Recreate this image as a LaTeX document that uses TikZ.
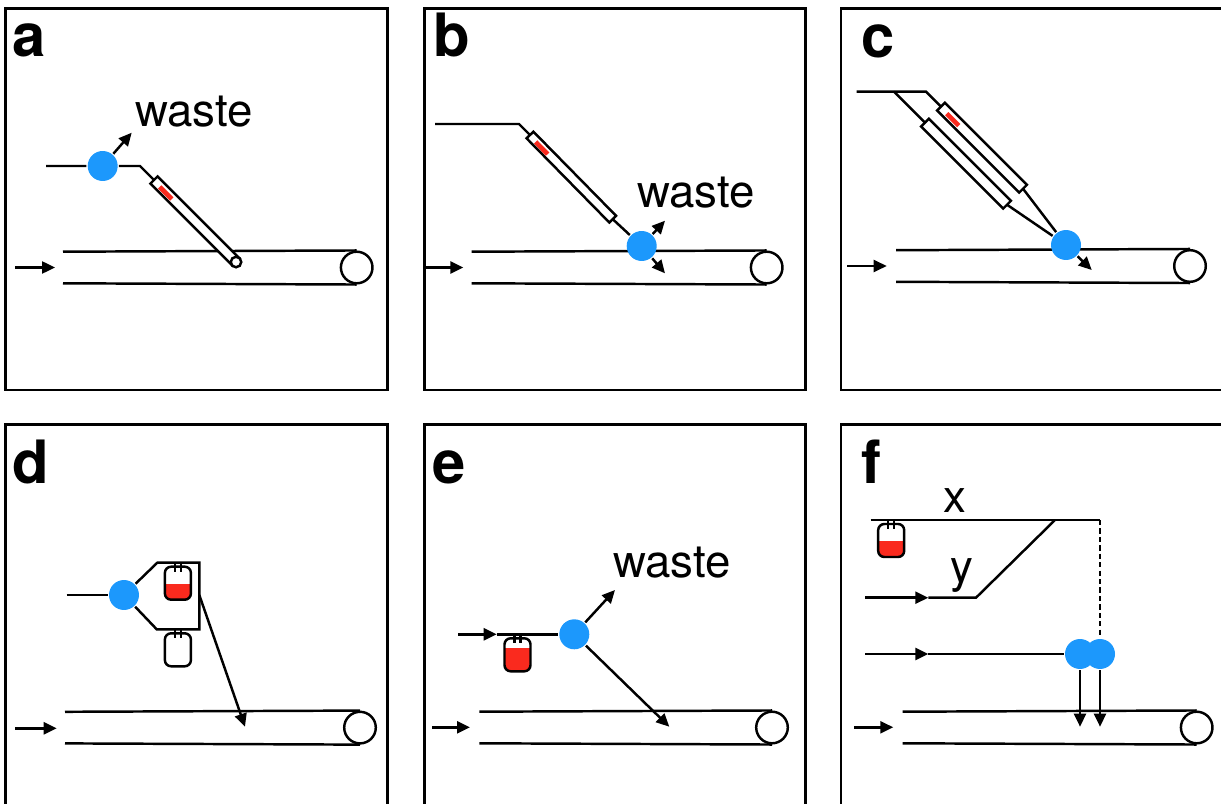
\documentclass[tikz,border=0pt]{standalone}
\usepackage{fontspec}
\setmainfont{TeX Gyre Heros}
\usetikzlibrary{arrows.meta}
\definecolor{pumpblue}{RGB}{28,152,252}
\definecolor{blood}{RGB}{250,42,30}
\tikzset{
  panelframe/.style={line width=1.5pt},
  pump/.style={circle, fill=pumpblue, minimum size=0.6cm, inner sep=0pt},
  pulley/.style={circle, draw, fill=white, minimum size=0.632cm, inner sep=0pt},
  tipring/.style={circle, draw, fill=white, minimum size=0.21cm, inner sep=0pt},
  flow/.style={-{Triangle[length=2.6mm,width=2.4mm]}},
  panellabel/.style={font=\fontsize{34}{34}\selectfont\bfseries, anchor=base west, inner sep=0pt},
  tag/.style={font=\fontsize{26}{26}\selectfont, anchor=base west, inner sep=0pt},
  % syringe: length / width / colour of the blood mark
  pics/syringe/.style args={#1/#2/#3}{code={
    \draw[fill=white] (0,-#2/2) rectangle (#1,#2/2);
    \path[fill=#3] (9,-1.5) rectangle (26,3.2);
    \coordinate (-top) at (0,0);
    \coordinate (-tip) at (#1,0);
  }},
  % blood bag hanging from a tube; #1 = level of the red filling
  pics/bag/.style={code={
    \begin{scope}
      \clip[rounded corners=3.5pt] (-13,4) rectangle (13,37);
      \fill[blood] (-13,#1) rectangle (13,37);
    \end{scope}
    \draw[rounded corners=3.5pt] (-13,4) rectangle (13,37);
    \draw (-3,0) -- (-3,9) (3,0) -- (3,9);
  }},
}
\begin{document}
\begin{tikzpicture}[x=0.02cm, y=-0.02cm, line width=1.4pt]
\useasboundingbox (0,0) rectangle (1221,804);
\clip (0,0) rectangle (1221,804);

% panel frames
\draw[panelframe] (5.5,8.5) rectangle (387.5,390);
\draw[panelframe] (424.5,8.5) rectangle (805.5,390);
\draw[panelframe] (841,8.5) rectangle (1223,390);
\draw[panelframe] (5.5,424.5) rectangle (387.5,807);
\draw[panelframe] (424.5,424.5) rectangle (805.5,807);
\draw[panelframe] (841,424.5) rectangle (1223,807);

% ---------------- a ----------------
\node[panellabel] (la) at (11,57) {a};
\coordinate (a-in0) at (15,267.5); \coordinate (a-in1) at (55,267.5);
\draw[flow] (a-in0) -- (a-in1);
\node[pulley] (a-pul) at (356.7,267.5) {};
\coordinate (a-bt) at (63,251.7); \coordinate (a-bb) at (63,283.3);
\draw (a-bt) -- (a-pul.north); \draw (a-bb) -- (a-pul.south);
\coordinate (a-feed) at (46,166); \coordinate (a-bend) at (140,166);
\pic[rotate=-45] (sa) at (154,180) {syringe=116/10/blood};
\node[tipring] (a-ring) at (sa-tip) {};
\node[pump] (a-pump) at (102.7,166) {};
\draw (a-feed) -- (a-pump) -- (a-bend) -- (sa-top);
\coordinate (a-w) at (131.7,132.7);
\draw[flow] (a-pump) -- (a-w);
\node[tag] (a-waste) at (134,126.7) {waste};

% ---------------- b ----------------
\node[panellabel] (lb) at (432,57) {b};
\coordinate (b-in0) at (425,267.5); \coordinate (b-in1) at (463.3,267.5);
\draw[flow] (b-in0) -- (b-in1);
\node[pulley] (b-pul) at (766.7,267.5) {};
\coordinate (b-bt) at (471.7,251.7); \coordinate (b-bb) at (471.7,283.3);
\draw (b-bt) -- (b-pul.north); \draw (b-bb) -- (b-pul.south);
\coordinate (b-feed) at (435,124); \coordinate (b-bend) at (519,124);
\pic[rotate=-45.5] (sb) at (530,135) {syringe=118/9.5/blood};
\node[pump] (b-pump) at (641.7,246) {};
\draw (b-feed) -- (b-bend) -- (sb-top);
\draw (sb-tip) -- (b-pump);
\coordinate (b-w1) at (665,220.7); \coordinate (b-w2) at (665,273.3);
\draw[flow] (b-pump) -- (b-w1);
\draw[flow] (b-pump) -- (b-w2);
\node[tag] (b-waste) at (636,207.3) {waste};

% ---------------- c ----------------
\node[panellabel] (lc) at (860,58) {c};
\coordinate (c-in0) at (847.3,266); \coordinate (c-in1) at (886.7,266);
\draw[flow] (c-in0) -- (c-in1);
\node[pulley] (c-pul) at (1190,266) {};
\coordinate (c-bt) at (896,250.2); \coordinate (c-bb) at (896,281.8);
\draw (c-bt) -- (c-pul.north); \draw (c-bb) -- (c-pul.south);
\coordinate (c-feed) at (856.7,91.7); \coordinate (c-fork) at (894,91.7);
\coordinate (c-bend) at (926,91.7);
\pic[rotate=-45] (sc1) at (941,106.7) {syringe=116/11/blood};
\pic[rotate=-45] (sc2) at (925,122.7) {syringe=116/11/none};
\node[pump] (c-pump) at (1066,245) {};
\draw (c-feed) -- (c-bend) -- (sc1-top);
\draw (c-fork) -- (sc2-top);
\draw (sc1-tip) -- (c-pump);
\draw (sc2-tip) -- (c-pump);
\coordinate (c-w) at (1091.7,270);
\draw[flow] (c-pump) -- (c-w);

% ---------------- d ----------------
\node[panellabel] (ld) at (11,483) {d};
\coordinate (d-in0) at (15,728.3); \coordinate (d-in1) at (56.7,728.3);
\draw[flow] (d-in0) -- (d-in1);
\node[pulley] (d-pul) at (360,727.6) {};
\coordinate (d-bt) at (65,711.8); \coordinate (d-bb) at (65,743.4);
\draw (d-bt) -- (d-pul.north); \draw (d-bb) -- (d-pul.south);
\coordinate (d-feed) at (66.7,595);
\node[pump] (d-pump) at (124,595) {};
\coordinate (d-ul) at (157.3,562.7); \coordinate (d-ur) at (199.3,562.7);
\coordinate (d-lr) at (199.3,629.3); \coordinate (d-ll) at (156.7,629.3);
\pic (d-bag1) at (177.9,562.7) {bag=21.3};
\pic (d-bag2) at (177.9,629.3) {bag=37};
\draw (d-feed) -- (d-pump);
\draw (d-pump) -- (d-ul) -- (d-ur) -- (d-lr) -- (d-ll) -- (d-pump);
\coordinate (d-out) at (199.3,595); \coordinate (d-drop) at (245,726.7);
\draw[flow] (d-out) -- (d-drop);

% ---------------- e ----------------
\node[panellabel] (le) at (431,483) {e};
\coordinate (e-in0) at (432,727.3); \coordinate (e-in1) at (470,727.3);
\draw[flow] (e-in0) -- (e-in1);
\node[pulley] (e-pul) at (772,727.5) {};
\coordinate (e-bt) at (479.3,711.7); \coordinate (e-bb) at (479.3,743.3);
\draw (e-bt) -- (e-pul.north); \draw (e-bb) -- (e-pul.south);
\coordinate (e-feed) at (458.3,634.3); \coordinate (e-mid) at (496.7,634.3);
\pic (e-bag) at (517.5,634.3) {bag=14};
\node[pump] (e-pump) at (574.3,634.3) {};
\draw[flow] (e-feed) -- (e-mid);
\draw (e-mid) -- (e-pump);
\coordinate (e-w) at (615,590); \coordinate (e-drop) at (669.3,726.7);
\draw[flow] (e-pump) -- (e-w);
\draw[flow] (e-pump) -- (e-drop);
\node[tag] (e-waste) at (612,577) {waste};

% ---------------- f ----------------
\node[panellabel] (lf) at (860,483) {f};
\coordinate (f-in0) at (854,727.3); \coordinate (f-in1) at (893.3,727.3);
\draw[flow] (f-in0) -- (f-in1);
\node[pulley] (f-pul) at (1196.7,727.5) {};
\coordinate (f-bt) at (902.7,711.7); \coordinate (f-bb) at (902.7,743.3);
\draw (f-bt) -- (f-pul.north); \draw (f-bb) -- (f-pul.south);
\pic (f-bag) at (891.2,520) {bag=21};
\coordinate (f-x0) at (870.7,520); \coordinate (f-xj) at (1055,520);
\coordinate (f-x1) at (1100,520);
\coordinate (f-y0) at (865,597.7); \coordinate (f-ymid) at (928.3,597.7);
\coordinate (f-yj) at (976,597.7);
\coordinate (f-z0) at (865,654); \coordinate (f-zmid) at (928.3,654);
\node[pump] (f-p1) at (1080,654) {};
\node[pump] (f-p2) at (1100,654) {};
\draw (f-x0) -- (f-x1);
\draw[dash pattern=on 3pt off 1.8pt] (f-x1) -- (f-p2);
\draw (f-xj) -- (f-yj) -- (f-ymid);
\draw[flow] (f-y0) -- (f-ymid);
\draw[flow] (f-z0) -- (f-zmid);
\draw (f-zmid) -- (f-p1);
\coordinate (f-d1) at (1080,726.7); \coordinate (f-d2) at (1100,726.7);
\draw[flow] (f-p1) -- (f-d1);
\draw[flow] (f-p2) -- (f-d2);
\node[tag] (f-xl) at (942,512) {x};
\node[tag] (f-yl) at (949,582) {y};
\end{tikzpicture}
\end{document}
